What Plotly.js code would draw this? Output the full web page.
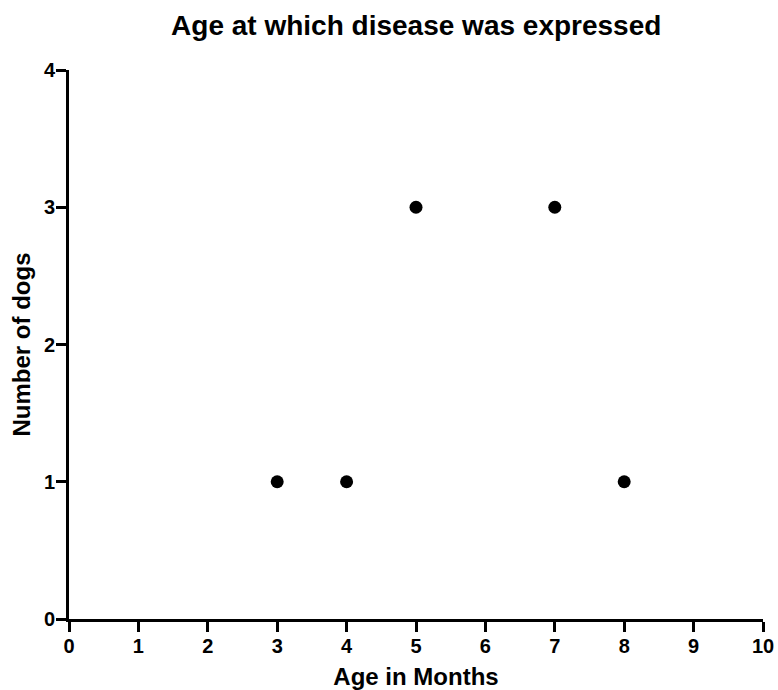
<!DOCTYPE html>
<html><head><meta charset="utf-8">
<script src="https://cdn.plot.ly/plotly-3.0.1.min.js"></script>
<style>html,body{margin:0;padding:0;background:#fff}</style>
</head><body><div id="chart" style="width:778px;height:690px"></div>
<script>
const ageMonths = [3, 4, 5, 7, 8];
const numDogs = [1, 1, 3, 3, 1];
const xTicks = [0,1,2,3,4,5,6,7,8,9,10];
const yTicks = [0,1,2,3,4];

const fontFam = '"Liberation Sans", Arial, sans-serif';
Plotly.newPlot('chart', [{
  x: ageMonths, y: numDogs, type: 'scatter', mode: 'markers',
  marker: {color: '#000', size: 13}, cliponaxis: false, hoverinfo: 'none'
}], {
  width: 778, height: 690,
  margin: {l: 69, r: 15, t: 70, b: 71},
  paper_bgcolor: '#fff', plot_bgcolor: '#fff',
  showlegend: false,
  title: {text: '<b>Age at which disease was expressed</b>', x: 0.535, xanchor: 'center', y: 0.963, yanchor: 'middle',
          font: {family: fontFam, size: 28, color: '#000'}},
  xaxis: {range: [0, 10], tickvals: xTicks, ticktext: xTicks.map(v => '<b>' + v + '</b>'),
          showgrid: false, zeroline: false, showline: true, linecolor: '#000', linewidth: 3,
          ticks: 'outside', ticklen: 10, tickwidth: 3, tickcolor: '#000', ticklabelstandoff: -3,
          tickfont: {family: fontFam, size: 20, color: '#000'},
          title: {text: '<b>Age in Months</b>', standoff: 13, font: {family: fontFam, size: 24, color: '#000'}}},
  yaxis: {range: [0, 4], tickvals: yTicks, ticktext: yTicks.map(v => '<b>' + v + '</b>'),
          showgrid: false, zeroline: false, showline: true, linecolor: '#000', linewidth: 3,
          ticks: 'outside', ticklen: 10, tickwidth: 3, tickcolor: '#000', ticklabelstandoff: -3,
          tickfont: {family: fontFam, size: 20, color: '#000'},
          title: {text: '<b>Number of dogs</b>', standoff: 7, font: {family: fontFam, size: 24, color: '#000'}}}
}, {staticPlot: true});
</script></body></html>
